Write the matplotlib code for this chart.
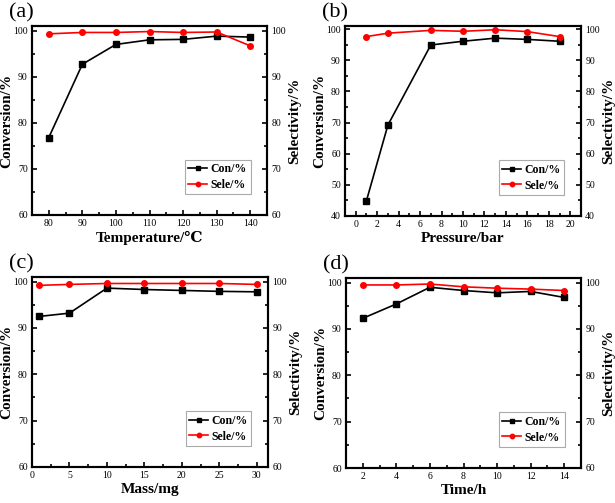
import numpy as np
import matplotlib.pyplot as plt
from matplotlib.ticker import MultipleLocator

plt.rcParams['font.family'] = ['Liberation Serif', 'DejaVu Serif']

# (a) temperature
temp = [80, 90, 100, 110, 120, 130, 140]
con_a = [76.8, 92.7, 97.0, 98.0, 98.1, 98.8, 98.6]
sele_a = [99.3, 99.6, 99.6, 99.8, 99.6, 99.7, 96.7]

# (b) pressure
pres = [1, 3, 7, 10, 13, 16, 19]
con_b = [44.9, 69.2, 94.9, 96.1, 97.1, 96.7, 96.1]
sele_b = [97.6, 98.7, 99.6, 99.3, 99.8, 99.2, 97.6]

# (c) mass
mass = [1, 5, 10, 15, 20, 25, 30]
con_c = [92.5, 93.2, 98.6, 98.3, 98.1, 97.9, 97.8]
sele_c = [99.2, 99.4, 99.6, 99.6, 99.6, 99.6, 99.4]

# (d) time
time_h = [2, 4, 6, 8, 10, 12, 14]
con_d = [92.3, 95.4, 99.0, 98.3, 97.8, 98.1, 96.8]
sele_d = [99.5, 99.5, 99.7, 99.1, 98.8, 98.6, 98.3]

W, H = 615, 503
fig = plt.figure(figsize=(W / 100, H / 100), dpi=100)


def box(l, t, r, b):
    return [l / W, 1 - b / H, (r - l) / W, (b - t) / H]


def panel(rect, x, con, sele, xlim, xmaj, xmin, ylim, xlabel, tag):
    ax = fig.add_axes(box(*rect))
    ax.plot(x, con, color='black', marker='s', ms=4, lw=1.2, label='Con/%')
    ax.plot(x, sele, color='red', marker='o', ms=4, lw=1.2, label='Sele/%')
    ax.set_xlim(*xlim)
    ax.set_ylim(*ylim)
    ax.xaxis.set_major_locator(MultipleLocator(xmaj))
    ax.xaxis.set_minor_locator(MultipleLocator(xmin))
    ax.yaxis.set_major_locator(MultipleLocator(10))
    ax.yaxis.set_minor_locator(MultipleLocator(5))
    ax.tick_params(which='both', direction='in', labelsize=7, width=1.2, top=False)
    ax.tick_params(which='major', length=3.5, pad=3)
    ax.tick_params(which='minor', length=2)
    for s in ax.spines.values():
        s.set_linewidth(1.5)
    ax.set_xlabel(xlabel, fontsize=11, fontweight='bold', labelpad=2)
    ax.set_ylabel('Conversion/%', fontsize=11, fontweight='bold', labelpad=0)

    ax2 = ax.twinx()
    ax2.set_ylim(*ylim)
    ax2.yaxis.set_major_locator(MultipleLocator(10))
    ax2.yaxis.set_minor_locator(MultipleLocator(5))
    ax2.tick_params(which='both', direction='in', labelsize=7, width=1.2)
    ax2.tick_params(which='major', length=3.5, pad=3)
    ax2.tick_params(which='minor', length=2)
    for s in ax2.spines.values():
        s.set_linewidth(1.5)
    ax2.set_ylabel('Selectivity/%', fontsize=11, fontweight='bold',
                   rotation=90, labelpad=2)

    leg = ax.legend(loc='lower right', bbox_to_anchor=(0.93, 0.11),
                    prop={'weight': 'bold', 'size': 8.5}, fancybox=False,
                    framealpha=1, handlelength=1.6, handletextpad=0.3,
                    borderpad=0.3, labelspacing=0.3, borderaxespad=0,
                    markerscale=0.8)
    leg.get_frame().set_edgecolor('#aaaaaa')
    leg.get_frame().set_linewidth(0.8)
    fig.text(rect[0] / W - 0.038, 1 - (rect[1] - 13) / H, tag, fontsize=16,
             ha='left', va='center')
    return ax


panel((32, 26, 267, 215), temp, con_a, sele_a, (75, 145), 10, 5, (60, 101),
      'Temperature/℃', '(a)')
panel((345, 26, 581, 216), pres, con_b, sele_b, (-1, 21), 2, 1, (40, 101),
      'Pressure/bar', '(b)')
panel((32, 277, 268, 467), mass, con_c, sele_c, (0, 31.5), 5, 2.5, (60, 101),
      'Mass/mg', '(c)')
panel((346, 278, 581, 468), time_h, con_d, sele_d, (1, 15), 2, 1, (60, 101),
      'Time/h', '(d)')

fig.savefig('out.png', dpi=100)
